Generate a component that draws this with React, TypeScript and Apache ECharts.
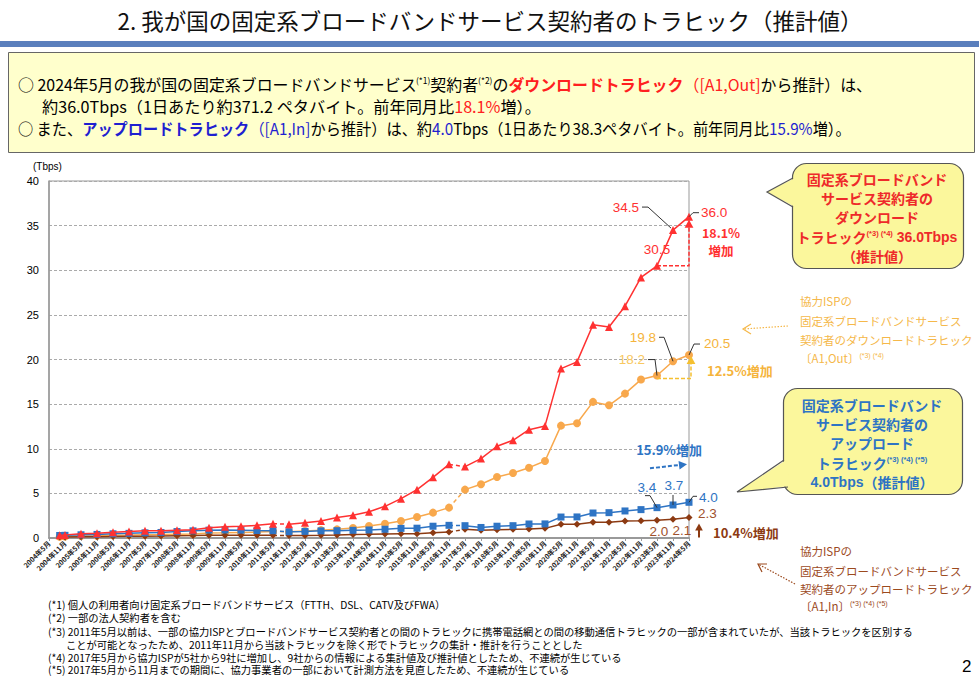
import React, { useEffect, useRef } from "react";
import * as echarts from "echarts";

// ---- data ----
const periods = [
  "2004年9月", "2004年11月", "2005年5月", "2005年11月", "2006年5月", "2006年11月",
  "2007年5月", "2007年11月", "2008年5月", "2008年11月", "2009年5月", "2009年11月",
  "2010年5月", "2010年11月", "2011年5月", "2011年11月", "2012年5月", "2012年11月",
  "2013年5月", "2013年11月", "2014年5月", "2014年11月", "2015年5月", "2015年11月",
  "2016年5月", "2016年11月", "2017年5月", "2017年11月", "2018年5月", "2018年11月",
  "2019年5月", "2019年11月", "2020年5月", "2020年11月", "2021年5月", "2021年11月",
  "2022年5月", "2022年11月", "2023年5月", "2023年11月", "2024年5月",
];
// 固定系ブロードバンドサービス契約者のダウンロードトラヒック (Tbps)
const downloadTotal = [
  0.32, 0.35, 0.47, 0.52, 0.64, 0.72, 0.8, 0.81, 0.88, 0.93, 1.16, 1.25,
  1.31, 1.42, 1.61, 1.53, 1.72, 1.9, 2.3, 2.55, 2.95, 3.55, 4.41, 5.42,
  6.8, 8.25, 8.0, 8.9, 10.28, 10.95, 12.14, 12.56, 18.98, 19.73, 23.9, 23.65,
  25.97, 29.19, 30.5, 34.5, 36.0,
];
// 協力ISPのダウンロードトラヒック [A1,Out]
const downloadA1 = [
  0.15, 0.17, 0.22, 0.25, 0.3, 0.33, 0.37, 0.38, 0.42, 0.45, 0.55, 0.58,
  0.62, 0.66, 0.74, 0.7, 0.78, 0.88, 0.97, 1.12, 1.35, 1.6, 1.9, 2.35,
  2.84, 3.4, 5.42, 6.02, 6.84, 7.29, 7.88, 8.63, 12.59, 12.86, 15.25, 14.87,
  16.18, 17.75, 18.2, 19.8, 20.5,
];
// 固定系ブロードバンドサービス契約者のアップロードトラヒック
const uploadTotal = [
  0.28, 0.3, 0.36, 0.4, 0.47, 0.52, 0.58, 0.62, 0.72, 0.8, 0.88, 0.9,
  0.88, 0.84, 0.82, 0.7, 0.74, 0.8, 0.82, 0.86, 0.9, 0.98, 1.08, 1.1,
  1.32, 1.42, 1.38, 1.18, 1.32, 1.38, 1.57, 1.58, 2.35, 2.36, 2.8, 2.84,
  3.03, 3.18, 3.4, 3.7, 4.0,
];
// 協力ISPのアップロードトラヒック [A1,In]
const uploadA1 = [
  0.1, 0.11, 0.13, 0.15, 0.17, 0.19, 0.21, 0.22, 0.25, 0.27, 0.3, 0.31,
  0.31, 0.3, 0.3, 0.27, 0.29, 0.31, 0.34, 0.38, 0.41, 0.45, 0.48, 0.49,
  0.6, 0.67, 0.97, 0.86, 0.93, 0.97, 1.0, 1.08, 1.53, 1.53, 1.76, 1.76,
  1.9, 1.92, 2.0, 2.1, 2.3,
];
// discontinuities after these indices (2011年5月, 2016年11月)
const breakAfter = [14, 25];

const FONT = '"Noto Sans CJK JP", "Noto Sans", sans-serif';
const NUMFONT = '"Liberation Sans", Arial, "Noto Sans CJK JP", sans-serif';

const RED = "#ff3131";
const ORANGE = "#f8a84c";
const BLUE = "#2e74c4";
const BROWN = "#8c3a12";

const months = periods.map((p) => {
  const m = p.match(/(\d+)年(\d+)月/)!;
  return (+m[1] - 2004) * 12 + (+m[2] - 5);
});

function mainData(vals: number[]) {
  const out: any[] = [];
  vals.forEach((v, i) => {
    out.push([months[i], v]);
    if (breakAfter.includes(i)) out.push([months[i] + 1, "-"]);
  });
  return out;
}
function dashData(vals: number[]) {
  const out: any[] = [];
  breakAfter.forEach((b) => {
    out.push([months[b], vals[b]]);
    out.push([months[b + 1], vals[b + 1]]);
    out.push(["-", "-"]);
  });
  return out;
}

function txt(x: number, y: number, text: string, o: any = {}, extra: any = {}) {
  return {
    type: "text",
    x,
    y,
    z: 100,
    ...extra,
    style: {
      text,
      fill: "#000",
      fontSize: 12,
      fontFamily: FONT,
      align: "left",
      verticalAlign: "middle",
      ...o,
    },
  };
}
function pl(points: number[][], stroke: string, lw = 1, dash?: number[]) {
  return {
    type: "polyline",
    z: 100,
    shape: { points },
    style: { stroke, lineWidth: lw, fill: null, lineDash: dash },
  };
}
function head(tx: number, ty: number, dx: number, dy: number, size: number, color: string) {
  const l = Math.hypot(dx, dy);
  const ux = dx / l, uy = dy / l;
  const nx = -uy, ny = ux;
  const bx = tx - ux * size, by = ty - uy * size;
  return {
    type: "polygon",
    z: 100,
    shape: {
      points: [
        [tx, ty],
        [bx + nx * size * 0.55, by + ny * size * 0.55],
        [bx - nx * size * 0.55, by - ny * size * 0.55],
      ],
    },
    style: { fill: color },
  };
}

function buildGraphics(chart: any) {
  const P = (i: number, v: number) =>
    chart.convertToPixel({ gridIndex: 0 }, [months[i], v]) as number[];
  const L = periods.length - 1;
  const r38 = P(L - 2, downloadTotal[L - 2]);
  const r39 = P(L - 1, downloadTotal[L - 1]);
  const r40 = P(L, downloadTotal[L]);
  const o38 = P(L - 2, downloadA1[L - 2]);
  const o39 = P(L - 1, downloadA1[L - 1]);
  const o40 = P(L, downloadA1[L]);
  const b38 = P(L - 2, uploadTotal[L - 2]);
  const b39 = P(L - 1, uploadTotal[L - 1]);
  const b40 = P(L, uploadTotal[L]);
  const n38 = P(L - 2, uploadA1[L - 2]);
  const n39 = P(L - 1, uploadA1[L - 1]);
  const n40 = P(L, uploadA1[L]);
  const LEAD = "#333";
  const num = { fontFamily: NUMFONT, fontSize: 13.5 };

  const g: any[] = [];

  // ---- title & header ----
  g.push(txt(490, 20, "2. 我が国の固定系ブロードバンドサービス契約者のトラヒック（推計値）", {
    fontSize: 22.5, align: "center", fill: "#111",
  }));
  g.push({ type: "rect", shape: { x: 0, y: 41, width: 979, height: 6 }, style: { fill: "#5a7fbd" } });
  g.push({
    type: "rect",
    shape: { x: 8.5, y: 52.5, width: 966, height: 100 },
    style: { fill: "#ffffcc", stroke: "#666", lineWidth: 1 },
  });
  const FS = 16;
  const boxRich = {
    k: { fill: "#000", fontSize: FS, fontFamily: FONT },
    s: { fill: "#000", fontSize: 8.5, fontFamily: FONT, verticalAlign: "top" },
    rb: { fill: "#ff2020", fontSize: FS, fontWeight: "bold", fontFamily: FONT },
    r: { fill: "#ff2020", fontSize: FS, fontFamily: FONT },
    bb: { fill: "#1f1fd0", fontSize: FS, fontWeight: "bold", fontFamily: FONT },
    b: { fill: "#1f1fd0", fontSize: FS, fontFamily: FONT },
  };
  g.push(txt(18, 84,
    "{k|○ 2024年5月の我が国の固定系ブロードバンドサービス}{s|(*1)}{k|契約者}{s|(*2)}{k|の}{rb|ダウンロードトラヒック}{r|（[A1,Out]}{k|から推計）は、}",
    { rich: boxRich, fontSize: FS }, { scaleX: 0.995 }));
  g.push(txt(42, 106,
    "{k|約36.0Tbps（1日あたり約371.2 ペタバイト。前年同月比}{r|18.1%}{k|増）。}",
    { rich: boxRich, fontSize: FS }, { scaleX: 1.01 }));
  g.push(txt(18, 128,
    "{k|○ また、}{bb|アップロードトラヒック}{b|（[A1,In]}{k|から推計）は、約}{b|4.0}{k|Tbps（1日あたり38.3ペタバイト。前年同月比}{b|15.9%}{k|増）。}",
    { rich: boxRich, fontSize: FS }, { scaleX: 0.95 }));

  // ---- axis unit ----
  g.push(txt(33, 166, "(Tbps)", { fontSize: 10, fontFamily: NUMFONT }));

  // ---- download total annotations ----
  g.push(txt(r39[0] - 34, r39[1] - 23, "34.5", { ...num, fill: RED, align: "right" }));
  g.push(pl([[r39[0] - 31, r39[1] - 23], [r39[0] - 25, r39[1] - 23], [r39[0] - 2, r39[1] - 2]], LEAD));
  g.push(txt(r40[0] + 12, r40[1] - 4, "36.0", { ...num, fill: RED }));
  g.push(pl([[r40[0], r40[1]], [r40[0] + 4, r40[1] - 4], [r40[0] + 10, r40[1] - 4]], LEAD));
  g.push(txt(r38[0], r38[1] - 16, "30.5", { ...num, fill: RED, align: "center" }));
  g.push(pl([[r38[0], r38[1]], [r40[0], r38[1]], [r40[0], r40[1] + 10]], RED, 1.5, [4, 2]));
  g.push(head(r40[0], r40[1] + 3, 0, -1, 8, RED));
  g.push(txt(r40[0] + 32, r40[1] + 16, "18.1%", { fill: RED, fontWeight: "bold", fontSize: 12.5, align: "center" }));
  g.push(txt(r40[0] + 32, r40[1] + 34, "増加", { fill: RED, fontWeight: "bold", fontSize: 12.5, align: "center" }));

  // ---- A1 out annotations ----
  g.push(txt(o39[0] - 17, o39[1] - 24, "19.8", { ...num, fill: "#f5b43c", align: "right" }));
  g.push(pl([[o39[0] - 14, o39[1] - 24], [o39[0] - 9, o39[1] - 24], [o39[0], o39[1]]], LEAD));
  g.push(txt(o38[0] - 12, o38[1] - 16, "18.2", { ...num, fill: "#f8c860", align: "right" }));
  g.push(pl([[o38[0] - 9, o38[1] - 16], [o38[0] - 2, o38[1] - 16], [o38[0], o38[1]]], LEAD));
  g.push(txt(o40[0] + 15, o40[1] - 12, "20.5", { ...num, fill: "#f5b43c" }));
  g.push(pl([[o40[0], o40[1]], [o40[0] + 5, o40[1] - 11], [o40[0] + 11, o40[1] - 11]], LEAD));
  g.push(pl([[o38[0], o38[1] + 3], [o40[0] + 2, o38[1] + 3], [o40[0] + 2, o40[1] + 8]], "#f5c030", 1.5, [4, 2]));
  g.push(head(o40[0] + 2, o40[1] + 1, 0, -1, 8, "#f5c030"));
  g.push(txt(o40[0] + 18, o40[1] + 15, "12.5%増加", { fill: "#f5b43c", fontWeight: "bold", fontSize: 13 }));

  // ---- upload total annotations ----
  g.push(txt(b38[0] - 10, b38[1] - 20, "3.4", { ...num, fill: BLUE, align: "center" }));
  g.push(pl([[b38[0] - 12, b38[1] - 12], [b38[0] - 7, b38[1] - 12], [b38[0], b38[1]]], LEAD));
  g.push(txt(b39[0] + 1, b39[1] - 19, "3.7", { ...num, fill: BLUE, align: "center" }));
  g.push(pl([[b39[0], b39[1] - 10], [b39[0], b39[1]]], LEAD));
  g.push(txt(b40[0] + 10, b40[1] - 5, "4.0", { ...num, fill: BLUE }));
  g.push(pl([[b40[0], b40[1]], [b40[0] + 4, b40[1] - 6], [b40[0] + 8, b40[1] - 6]], LEAD));
  g.push(txt(b40[0] - 20, b40[1] - 53, "15.9%増加", { fill: BLUE, fontWeight: "bold", fontSize: 13, align: "center" }));
  g.push(pl([[b40[0] - 39, b40[1] - 34], [b40[0] - 8, b40[1] - 37.5]], BLUE, 2, [4, 2]));
  g.push(head(b40[0] - 2, b40[1] - 38, 1, -0.12, 8, BLUE));

  // ---- upload A1 annotations ----
  g.push(txt(n40[0] + 9, n40[1] - 4, "2.3", { ...num, fill: "#a0522d" }));
  g.push(txt(n38[0] + 2, n38[1] + 11, "2.0", { ...num, fill: "#a0522d", align: "center" }));
  g.push(txt(n39[0] + 9, n39[1] + 11, "2.1", { ...num, fill: "#a0522d", align: "center" }));
  g.push(pl([[n40[0] + 10, n40[1] + 20], [n40[0] + 10, n40[1] + 10]], BROWN, 2));
  g.push(head(n40[0] + 10, n40[1] + 6, 0, -1, 7, BROWN));
  g.push(txt(n40[0] + 24, n40[1] + 15, "10.4%増加", { fill: BROWN, fontWeight: "bold", fontSize: 13 }));

  // ---- callout 1 (download) ----
  const YEL = "#fbf79c";
  g.push({ type: "rect", z: 90, shape: { x: 792.5, y: 163.5, width: 171, height: 105, r: 14 }, style: { fill: YEL, stroke: "#555", lineWidth: 1.2 } });
  g.push({ type: "polygon", z: 91, shape: { points: [[795, 178], [767, 192], [795, 207]] }, style: { fill: YEL } });
  g.push({ type: "polyline", z: 92, shape: { points: [[793, 178], [767, 192], [793, 207]] }, style: { stroke: "#555", lineWidth: 1.2, fill: null } });
  const c1 = { fill: "#ee2a2a", fontSize: 14, fontWeight: "bold", align: "center" };
  g.push(txt(877, 179, "固定系ブロードバンド", c1));
  g.push(txt(877, 198, "サービス契約者の", c1));
  g.push(txt(877, 217, "ダウンロード", c1));
  g.push(txt(877, 237, "{t|トラヒック}{s|(*3) (*4)}{n| 36.0Tbps}", {
    ...c1,
    rich: {
      t: { fill: "#ee2a2a", fontSize: 14, fontWeight: "bold", fontFamily: FONT },
      n: { fill: "#ee2a2a", fontSize: 14, fontWeight: "bold", fontFamily: NUMFONT },
      s: { fill: "#ee2a2a", fontSize: 7.5, fontWeight: "bold", fontFamily: NUMFONT, verticalAlign: "top" },
    },
  }));
  g.push(txt(877, 256, "（推計値）", c1));

  // ---- A1 Out label ----
  const oc = { fill: "#f5b84a", fontSize: 11.5 };
  g.push(txt(800, 301, "協力ISPの", oc));
  g.push(txt(800, 321, "固定系ブロードバンドサービス", oc));
  g.push(txt(800, 340, "契約者のダウンロードトラヒック", oc));
  g.push(txt(800, 358, "{t|〔A1,Out〕}{s|(*3) (*4)}", {
    ...oc,
    rich: { t: { fill: "#f5b84a", fontSize: 11.5, fontFamily: FONT }, s: { fill: "#f5b84a", fontSize: 7, fontFamily: NUMFONT, verticalAlign: "top" } },
  }));
  g.push(pl([[788, 326], [743, 329]], "#f5b84a", 1.2, [1.5, 1.5]));
  g.push(pl([[751, 324], [743, 329], [751, 334]], "#f5b84a", 1.2));

  // ---- callout 2 (upload) ----
  g.push({ type: "rect", z: 90, shape: { x: 783.5, y: 388.5, width: 179, height: 106, r: 14 }, style: { fill: YEL, stroke: "#555", lineWidth: 1.2 } });
  g.push({ type: "polygon", z: 91, shape: { points: [[786, 460], [737, 492], [790, 486]] }, style: { fill: YEL } });
  g.push({ type: "polyline", z: 92, shape: { points: [[784, 460], [737, 492], [788, 487]] }, style: { stroke: "#555", lineWidth: 1.2, fill: null } });
  const c2 = { fill: BLUE, fontSize: 14, fontWeight: "bold", align: "center" };
  g.push(txt(872, 405, "固定系ブロードバンド", c2));
  g.push(txt(872, 424, "サービス契約者の", c2));
  g.push(txt(872, 443, "アップロード", c2));
  g.push(txt(872, 463, "{t|トラヒック}{s|(*3) (*4) (*5)}", {
    ...c2,
    rich: {
      t: { fill: BLUE, fontSize: 14, fontWeight: "bold", fontFamily: FONT },
      s: { fill: BLUE, fontSize: 7.5, fontWeight: "bold", fontFamily: NUMFONT, verticalAlign: "top" },
    },
  }));
  g.push(txt(872, 482, "{n|4.0Tbps}{t|（推計値）}", {
    ...c2,
    rich: {
      t: { fill: BLUE, fontSize: 14, fontWeight: "bold", fontFamily: FONT },
      n: { fill: BLUE, fontSize: 14, fontWeight: "bold", fontFamily: NUMFONT },
    },
  }));

  // ---- A1 In label ----
  const bc = { fill: "#9c4a1e", fontSize: 11.5 };
  g.push(txt(800, 551, "協力ISPの", bc));
  g.push(txt(800, 571, "固定系ブロードバンドサービス", bc));
  g.push(txt(800, 589, "契約者のアップロードトラヒック", bc));
  g.push(txt(800, 606, "{t|〔A1,In〕}{s|(*3) (*4) (*5)}", {
    ...bc,
    rich: { t: { fill: "#9c4a1e", fontSize: 11.5, fontFamily: FONT }, s: { fill: "#9c4a1e", fontSize: 7, fontFamily: NUMFONT, verticalAlign: "top" } },
  }));
  g.push(pl([[795, 584], [758, 564]], "#9c4a1e", 1.2, [1.5, 1.5]));
  g.push(pl([[767, 564], [758, 564], [762, 572]], "#9c4a1e", 1.2));

  // ---- footnotes ----
  const fn = { fontSize: 10.5, fill: "#000" };
  g.push(txt(48, 604, "(*1) 個人の利用者向け固定系ブロードバンドサービス（FTTH、DSL、CATV及びFWA）", fn, { scaleX: 0.98 }));
  g.push(txt(48, 617, "(*2) 一部の法人契約者を含む", fn, { scaleX: 0.98 }));
  g.push(txt(48, 631, "(*3) 2011年5月以前は、一部の協力ISPとブロードバンドサービス契約者との間のトラヒックに携帯電話網との間の移動通信トラヒックの一部が含まれていたが、当該トラヒックを区別する", fn, { scaleX: 0.98 }));
  g.push(txt(66, 644, "ことが可能となったため、2011年11月から当該トラヒックを除く形でトラヒックの集計・推計を行うこととした", fn, { scaleX: 0.98 }));
  g.push(txt(48, 657, "(*4) 2017年5月から協力ISPが5社から9社に増加し、9社からの情報による集計値及び推計値としたため、不連続が生じている", fn, { scaleX: 0.98 }));
  g.push(txt(48, 669, "(*5) 2017年5月から11月までの期間に、協力事業者の一部において計測方法を見直したため、不連続が生じている", fn, { scaleX: 0.98 }));
  g.push(txt(962, 666, "2", { fontSize: 17, fontFamily: NUMFONT }));

  return g;
}

export default function App() {
  const ref = useRef<HTMLDivElement>(null);
  useEffect(() => {
    document.body.style.margin = "0";
    const chart = echarts.init(ref.current!, null, { renderer: "svg" });
    const lineSeries = (name: string, vals: number[], color: string, symbol: string, size: number, z: number, lw = 1.5) => ({
      name,
      type: "line",
      data: mainData(vals),
      symbol,
      symbolSize: size,
      z,
      connectNulls: false,
      itemStyle: { color },
      lineStyle: { color, width: lw },
    });
    const dashSeries = (vals: number[], color: string, z: number) => ({
      type: "line",
      data: dashData(vals),
      symbol: "none",
      z,
      lineStyle: { color, width: 1.5, type: [4, 3] },
      silent: true,
    });
    chart.setOption({
      animation: false,
      backgroundColor: "#ffffff",
      grid: {
        left: 49,
        right: 290,
        top: 181,
        bottom: 138,
        show: true,
        borderColor: "#999",
        borderWidth: 1,
        backgroundColor: "transparent",
      },
      xAxis: {
        type: "value",
        min: 0,
        max: 240,
        interval: 6,
        axisLine: { lineStyle: { color: "#999", width: 2 } },
        axisTick: { show: true, length: 3, lineStyle: { color: "#999" } },
        splitLine: { show: false },
        axisLabel: {
          rotate: 45,
          fontSize: 7,
          fontWeight: "bold",
          color: "#222",
          margin: 4,
          fontFamily: FONT,
          hideOverlap: false,
          showMinLabel: true,
          showMaxLabel: true,
          formatter: (v: number) => {
            const t = v + 4;
            return `${2004 + Math.floor(t / 12)}年${(t % 12) + 1}月`;
          },
        },
      },
      yAxis: {
        type: "value",
        min: 0,
        max: 40,
        interval: 5,
        axisLine: { show: true, lineStyle: { color: "#999", width: 1.5 } },
        axisTick: { show: false },
        axisLabel: { fontSize: 11, color: "#000", margin: 10, fontFamily: NUMFONT },
        splitLine: { lineStyle: { color: "#aaa", type: [3, 2] } },
      },
      series: [
        dashSeries(downloadA1, ORANGE, 3),
        dashSeries(uploadA1, BROWN, 3),
        dashSeries(uploadTotal, BLUE, 3),
        dashSeries(downloadTotal, RED, 3),
        lineSeries("協力ISPのダウンロードトラヒック[A1,Out]", downloadA1, ORANGE, "circle", 8, 4),
        lineSeries("協力ISPのアップロードトラヒック[A1,In]", uploadA1, BROWN, "diamond", 7, 5),
        lineSeries("アップロードトラヒック", uploadTotal, BLUE, "rect", 7, 6),
        lineSeries("ダウンロードトラヒック", downloadTotal, RED, "triangle", 8, 7),
      ],
    });
    chart.setOption({ graphic: buildGraphics(chart) });
    return () => chart.dispose();
  }, []);
  return <div ref={ref} style={{ width: 979, height: 676 }} />;
}
